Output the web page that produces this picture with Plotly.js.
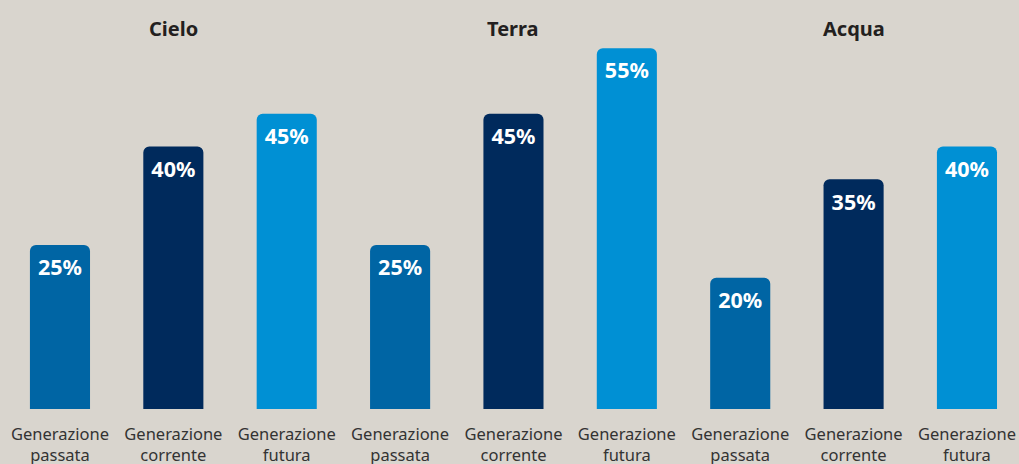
<!DOCTYPE html>
<html><head><meta charset="utf-8">
<script src="https://cdn.plot.ly/plotly-3.0.1.min.js"></script>
<style>html,body{margin:0;padding:0;background:#d9d5ce;}#chart{width:1019px;height:464px;}</style>
</head><body><div id="chart"></div>
<script>
const groups = ["Cielo", "Terra", "Acqua"];
const generations = ["Generazione<br>passata", "Generazione<br>corrente", "Generazione<br>futura"];
const valuesCielo = [25, 40, 45];
const valuesTerra = [25, 45, 55];
const valuesAcqua = [20, 35, 40];
const genColors = ["#0065a4", "#002a5c", "#0090d4"];

const allValues = valuesCielo.concat(valuesTerra, valuesAcqua);
const xs = allValues.map((v, i) => i);
const tickText = [0,1,2].flatMap(() => generations);
const barColors = [0,1,2].flatMap(() => genColors);

const bars = {
  type: "bar", x: xs, y: allValues, width: 0.53,
  marker: {color: barColors, line: {width: 0}},
  hoverinfo: "skip"
};
const labels = {
  type: "scatter", mode: "text", x: xs, y: allValues.map(v => v - 3.8),
  text: allValues.map(v => v + "%"),
  textfont: {family: "Noto Sans", size: 21.5, color: "#ffffff", weight: 700},
  hoverinfo: "skip"
};
const annotations = groups.map((g, i) => ({
  text: "<b>" + g + "</b>", x: i * 3 + 1, xref: "x", y: 1.01, yref: "paper",
  yanchor: "bottom", showarrow: false,
  font: {family: "Noto Sans", size: 20, color: "#231f20"}
}));

Plotly.newPlot("chart", [bars, labels], {
  width: 1019, height: 464,
  paper_bgcolor: "#d9d5ce", plot_bgcolor: "#d9d5ce",
  margin: {l: 0, r: 0, t: 48, b: 55},
  showlegend: false,
  barcornerradius: 6,
  xaxis: {range: [-0.529, 8.459], tickvals: xs, ticktext: tickText, showgrid: false,
          zeroline: false, showline: false, ticks: "", ticklabelstandoff: 13,
          tickfont: {family: "Noto Sans", size: 16.5, color: "#333333"}},
  yaxis: {range: [0, 55.02], visible: false, showgrid: false, zeroline: false},
  annotations: annotations
}, {displayModeBar: false, staticPlot: true});
</script></body></html>
